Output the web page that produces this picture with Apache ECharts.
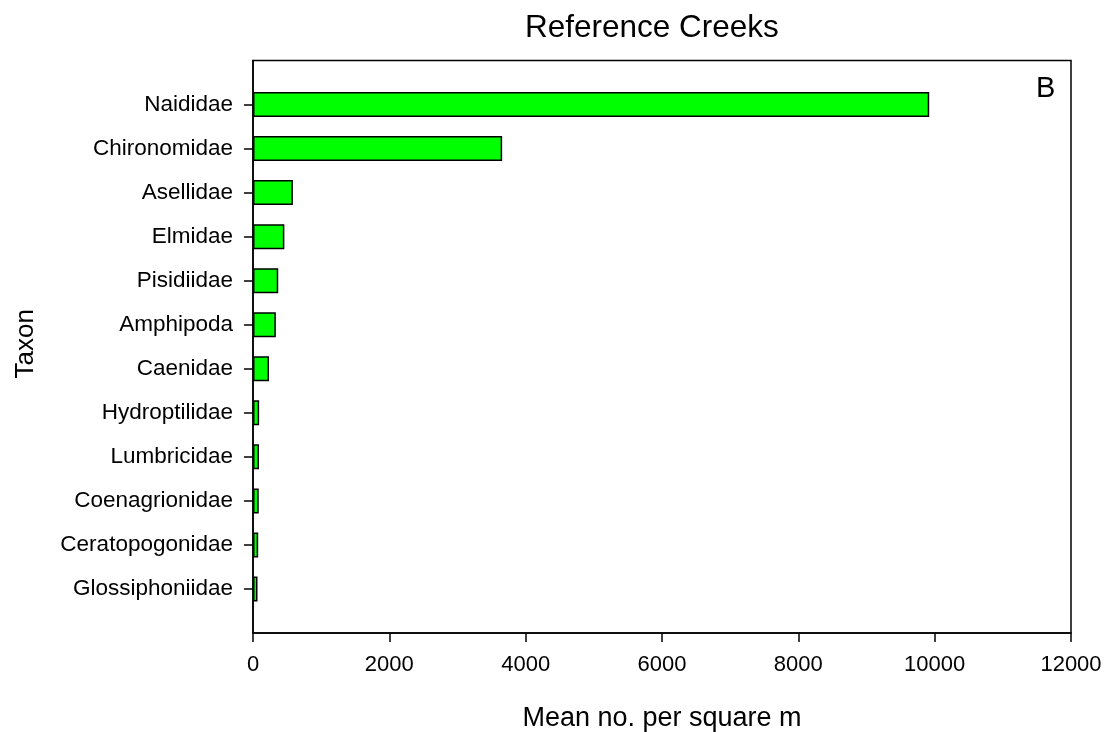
<!DOCTYPE html>
<html>
<head>
<meta charset="utf-8">
<script src="https://cdn.jsdelivr.net/npm/echarts@6/dist/echarts.min.js"></script>
<style>
html,body{margin:0;padding:0;background:#fff;}
#c{width:1107px;height:732px;}
</style>
</head>
<body>
<div id="c"></div>
<script>
const taxa = ['Naididae','Chironomidae','Asellidae','Elmidae','Pisidiidae','Amphipoda','Caenidae','Hydroptilidae','Lumbricidae','Coenagrionidae','Ceratopogonidae','Glossiphoniidae'];
const meanPerSqM = [9920, 3655, 585, 460, 370, 335, 235, 90, 88, 84, 76, 66];
const xTicks = {min: 0, max: 12000, interval: 2000};

// pad with blank slots top and bottom so categories sit at 1..12 on a 0..13 scale
const cats = [''].concat(taxa, ['']);
const vals = ['-'].concat(meanPerSqM, ['-']);

const FONT = '"Liberation Sans", Arial, sans-serif';
const chart = echarts.init(document.getElementById('c'));
chart.setOption({
  animation: false,
  backgroundColor: '#fff',
  title: {
    text: 'Reference Creeks',
    left: 520, top: 7,
    textStyle: {fontFamily: FONT, fontSize: 31.5, fontWeight: 'normal', color: '#000'}
  },
  grid: {left: 253, right: 36, top: 60.5, bottom: 99, show: true, borderColor: '#000', borderWidth: 1.5,
    outerBoundsMode: 'none', containLabel: false},
  xAxis: {
    type: 'value', min: xTicks.min, max: xTicks.max, interval: xTicks.interval,
    name: 'Mean no. per square m', nameLocation: 'middle', nameGap: 72,
    nameTextStyle: {fontFamily: FONT, fontSize: 27, color: '#000'},
    axisLine: {show: true, lineStyle: {color: '#000', width: 1.5}},
    axisTick: {show: true, length: 9, lineStyle: {color: '#000', width: 1.5}},
    axisLabel: {fontFamily: FONT, fontSize: 22, color: '#000', margin: 21,
      formatter: function (v) { return String(v); }},
    splitLine: {show: false}
  },
  yAxis: {
    type: 'category', data: cats, inverse: true, boundaryGap: false,
    name: 'Taxon', nameLocation: 'middle', nameGap: 214, nameRotate: 90,
    nameTextStyle: {fontFamily: FONT, fontSize: 26, color: '#000', padding: [0, 0, 0, 6]},
    axisLine: {show: true, lineStyle: {color: '#000', width: 1.5}},
    axisTick: {show: true, length: 9, alignWithLabel: true, lineStyle: {color: '#000', width: 1.5},
      interval: function (i) { return i > 0 && i < cats.length - 1; }},
    axisLabel: {fontFamily: FONT, fontSize: 22.5, color: '#000', margin: 20, interval: 0},
    splitLine: {show: false}
  },
  graphic: [{
    type: 'text', left: 1036, top: 74,
    style: {text: 'B', font: '29px "Liberation Sans", Arial, sans-serif', fill: '#000'}
  }],
  series: [{
    type: 'bar', data: vals, barWidth: 25,
    itemStyle: {color: '#00ff00', borderColor: '#000', borderWidth: 1.5}
  }]
});
</script>
</body>
</html>
